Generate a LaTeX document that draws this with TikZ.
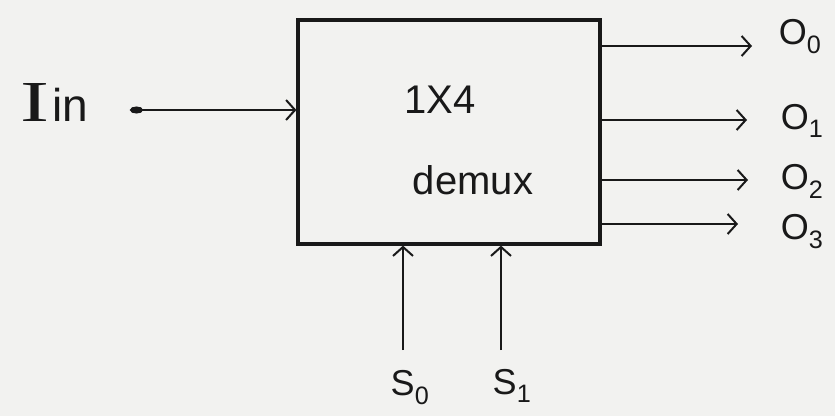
\documentclass[tikz,border=0pt]{standalone}
\usepackage{fontspec}
\setmainfont{Liberation Sans}
\newfontfamily\serifI{Liberation Serif}
\usetikzlibrary{arrows.meta,calc}
\definecolor{paper}{RGB}{242,242,240}
\definecolor{ink}{RGB}{25,25,25}
\tikzset{
  wire/.style={draw=ink, line width=2pt, -{Straight Barb[length=9pt,width=20pt,line width=2pt]}},
  blockbox/.style={draw=ink, line width=3.2pt, minimum width=302pt, minimum height=224pt, inner sep=0pt},
  lbl/.style={text=ink, font=\fontsize{36}{38}\selectfont, inner sep=0pt},
  boxtext/.style={text=ink, font=\fontsize{40}{44}\selectfont, inner sep=0pt}
}
\begin{document}
\begin{tikzpicture}[x=1pt,y=-1pt]
  \fill[paper] (0,0) rectangle (835,416);
  \useasboundingbox (0,0) rectangle (835,416);

  % the demultiplexer block
  \node[blockbox] (dmx) at (449,132) {};
  \node[boxtext] (size) at (440,100) {1X4};
  \node[boxtext] (name) at (473,180) {demux};

  % data input
  \node[text=ink, inner sep=0pt, anchor=base west] (in) at (20,121)
    {\scalebox{1.5}[1]{\serifI\fontsize{58}{60}\selectfont I}\kern3pt{\fontsize{46}{48}\selectfont in}};
  \coordinate (instart) at (130,110);
  \draw[wire, {Ellipse[length=13pt,width=7pt]}-{Straight Barb[length=9pt,width=20pt,line width=2pt]}]
    (instart) -- (dmx.west |- instart);

  % outputs
  \node[lbl] (o0) at (800,37)  {O\textsubscript{0}};
  \node[lbl] (o1) at (802,121) {O\textsubscript{1}};
  \node[lbl] (o2) at (802,181) {O\textsubscript{2}};
  \node[lbl] (o3) at (802,232) {O\textsubscript{3}};
  \coordinate (e0) at (752,46);
  \coordinate (e1) at (747,120);
  \coordinate (e2) at (748,180);
  \coordinate (e3) at (738,224);
  \draw[wire] (dmx.east |- e0) -- (e0);
  \draw[wire] (dmx.east |- e1) -- (e1);
  \draw[wire] (dmx.east |- e2) -- (e2);
  \draw[wire] (dmx.east |- e3) -- (e3);

  % select lines
  \node[lbl] (s0) at (410,388) {S\textsubscript{0}};
  \node[lbl] (s1) at (512,386) {S\textsubscript{1}};
  \coordinate (t0) at (403,350);
  \coordinate (t1) at (501,350);
  \draw[wire] (t0) -- (t0 |- dmx.south);
  \draw[wire] (t1) -- (t1 |- dmx.south);
\end{tikzpicture}
\end{document}
